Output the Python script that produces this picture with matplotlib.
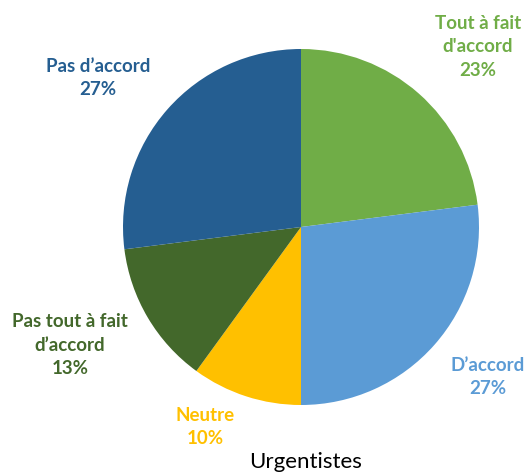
import matplotlib.pyplot as plt

# donnees
categories = ["Tout à fait\nd'accord", "D’accord", "Neutre", "Pas tout à fait\nd’accord", "Pas d’accord"]
valeurs = [23, 27, 10, 13, 27]
couleurs = ["#70AD47", "#5B9BD5", "#FFC000", "#43682B", "#255E91"]
titre = "Urgentistes"

# positions des etiquettes (pixels, centre du bloc de texte)
pos_labels = [(478, 47), (488, 377), (205, 427), (70, 345), (98, 78)]

W, H = 526, 473
fig = plt.figure(figsize=(W / 100, H / 100), dpi=100)
cx, cy, r = 301, 227, 178
ax = fig.add_axes([(cx - r) / W, (H - cy - r) / H, 2 * r / W, 2 * r / H])
ax.pie(valeurs, colors=couleurs, startangle=90, counterclock=False, radius=1,
       wedgeprops=dict(linewidth=0))
ax.set_xlim(-1, 1)
ax.set_ylim(-1, 1)
ax.set_aspect("equal")
ax.axis("off")

for cat, v, c, (px, py) in zip(categories, valeurs, couleurs, pos_labels):
    fig.text(px / W, 1 - py / H, cat + "\n" + str(v) + "%", color=c, ha="center", va="center",
             fontsize=13.5, fontweight="bold", family="Lato", linespacing=1.45)

fig.text(306 / W, 1 - 462 / H, titre, ha="center", va="center", fontsize=16, family="Lato")

fig.savefig("out.png", dpi=100)
